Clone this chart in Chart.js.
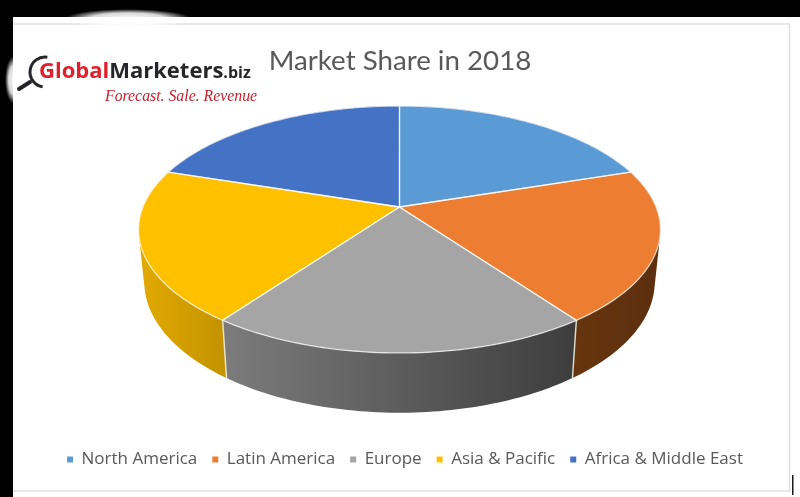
<!DOCTYPE html>
<html><head><meta charset="utf-8">
<style>html,body{margin:0;padding:0;background:#fff}canvas{display:block;filter:blur(0.45px)}</style>
<script src="https://cdn.jsdelivr.net/npm/chart.js@4"></script>
</head><body><canvas id="c" width="800" height="497"></canvas>
<script>
const categories = ["North America","Latin America","Europe","Asia & Pacific","Africa & Middle East"];
const shareValues = [20,20,20,20,20];
const topColors = ["#5B9BD5","#ED7D31","#A5A5A5","#FFC000","#4472C4"];
const wallLeftColors = ["#38608a","#66350f","#7c7c7c","#e2aa00","#2a4778"];
const wallRightColors = ["#38608a","#5c2f0e","#3d3d3d","#c49300","#2a4778"];
const titleText = "Market Share in 2018";

// projected disc: unit circle -> screen
const P = {cx:399.5, cy:207, A:256.6, B:119.4, k:0.182, depthScale:1.06, depth:51, inset:0.978};
function rim(a){
  const u=Math.cos(a), v=Math.sin(a), s=1/(1-P.k*v);
  return [P.cx+P.A*u*s, P.cy+P.B*v*s];
}
function low(p){
  return [P.cx+(p[0]-P.cx)*P.inset, P.cy+(p[1]-P.cy)*P.depthScale+P.depth];
}
function samples(a0,a1){
  const n=Math.max(4,Math.ceil((a1-a0)/0.02)), out=[];
  for(let i=0;i<=n;i++) out.push(a0+(a1-a0)*i/n);
  return out;
}
function addQuad(c,q){
  let area=0;
  q.forEach((p,i)=>{const r=q[(i+1)%4]; area+=p[0]*r[1]-r[0]*p[1];});
  const o=area<0?q.slice().reverse():q;
  c.moveTo(o[0][0],o[0][1]);
  for(let i=1;i<4;i++) c.lineTo(o[i][0],o[i][1]);
  c.closePath();
}
const framePlugin = {
  id:'frame',
  afterLayout(chart){
    // the reference legend sits a little right of centre
    chart.legend.left+=5; chart.legend.right+=5;
  },
  beforeDraw(chart){
    const c=chart.ctx;
    c.save();
    c.fillStyle='#fff'; c.fillRect(0,0,800,497);
    c.fillStyle='#000'; c.fillRect(0,0,800,17); c.fillRect(0,0,13,497);
    // panel outline
    c.strokeStyle='#dfdfdf'; c.lineWidth=1.5;
    c.beginPath(); c.moveTo(13,24); c.lineTo(789.5,24); c.lineTo(789.5,491); c.lineTo(13,491); c.stroke();
    c.fillStyle='#1a1a1a'; c.fillRect(792,475,1.5,20);
    // soft glow on the dark edges
    let g=c.createRadialGradient(0,0,0,0,0,1);
    g.addColorStop(0,'rgba(255,255,255,1)'); g.addColorStop(.6,'rgba(255,255,255,.85)'); g.addColorStop(1,'rgba(255,255,255,0)');
    c.save(); c.translate(128,19); c.scale(64,10); c.fillStyle=g; c.beginPath(); c.arc(0,0,1,0,7); c.fill(); c.restore();
    c.save(); c.translate(14,80); c.scale(9,24); c.fillStyle=g; c.beginPath(); c.arc(0,0,1,0,7); c.fill(); c.restore();
    // logo
    c.textBaseline='alphabetic'; c.textAlign='left';
    c.font='bold 22px "Open Sans"';
    c.fillStyle='#e0202c'; c.fillText('Global',39,78);
    const gw=c.measureText('Global').width;
    c.fillStyle='#26262a'; c.fillText('Marketers',39+gw,78);
    const mw=c.measureText('Marketers').width;
    c.font='bold 16px "Open Sans"'; c.fillText('.biz',39+gw+mw,78);
    c.font='italic 15.8px "Liberation Serif"'; c.fillStyle='#c8202c'; c.fillText('Forecast. Sale. Revenue',105,101);
    c.strokeStyle='#26262a'; c.lineWidth=3;
    c.beginPath(); c.arc(45,72,15,Math.PI*0.55,Math.PI*1.55); c.stroke();
    c.lineWidth=4; c.lineCap='round'; c.beginPath(); c.moveTo(19,89); c.lineTo(30,82); c.stroke();
    c.restore();
  }
};
const pie3dPlugin = {
  id:'pie3d',
  beforeDatasetDraw(chart,args){
    const c=chart.ctx, arcs=args.meta.data;
    c.save();
    // walls: one path of same-wound strips, so no seams and a closed silhouette
    arcs.forEach((el,i)=>{
      const pts=samples(el.startAngle,el.endAngle).map(rim);
      const xs=pts.map(p=>p[0]);
      const g=c.createLinearGradient(Math.min(...xs),0,Math.max(...xs),0);
      g.addColorStop(0,wallLeftColors[i]); g.addColorStop(1,wallRightColors[i]);
      c.fillStyle=g;
      c.beginPath();
      for(let j=0;j<pts.length-1;j++) addQuad(c,[pts[j],pts[j+1],low(pts[j+1]),low(pts[j])]);
      c.fill('nonzero');
    });
    // seams on the front wall
    c.strokeStyle='rgba(240,240,225,.85)'; c.lineWidth=1.5;
    arcs.forEach(el=>{
      const a=el.startAngle, p=rim(a), q=low(p);
      if(Math.sin(a)>0.3){c.beginPath();c.moveTo(p[0],p[1]);c.lineTo(q[0],q[1]);c.stroke();}
    });
    // top faces
    arcs.forEach((el,i)=>{
      const pts=samples(el.startAngle,el.endAngle).map(rim);
      c.fillStyle=topColors[i];
      c.beginPath(); c.moveTo(P.cx,P.cy);
      pts.forEach(p=>c.lineTo(p[0],p[1]));
      c.closePath(); c.fill();
    });
    c.strokeStyle='rgba(255,255,255,.7)'; c.lineWidth=1.3;
    arcs.forEach((el,i)=>{
      const pts=samples(el.startAngle,el.endAngle).map(rim);
      c.beginPath(); c.moveTo(P.cx,P.cy);
      pts.forEach(p=>c.lineTo(p[0],p[1]));
      c.closePath(); c.stroke();
    });
    c.restore();
    return false;
  }
};
new Chart(document.getElementById('c'),{
  type:'pie',
  data:{labels:categories,datasets:[{data:shareValues,backgroundColor:topColors,borderWidth:0}]},
  plugins:[framePlugin,pie3dPlugin],
  options:{
    responsive:false,animation:false,
    layout:{padding:{top:44,bottom:19,left:0,right:0}},
    plugins:{
      tooltip:{enabled:false},
      title:{display:true,text:titleText,color:'#595959',font:{family:'Lato',size:27.7,weight:'normal'},padding:{top:0,bottom:10}},
      legend:{position:'bottom',labels:{color:'#595959',usePointStyle:true,pointStyle:'rect',boxWidth:6,boxHeight:6,padding:15,font:{family:'"Open Sans"',size:17}}}
    }
  }
});
</script></body></html>
